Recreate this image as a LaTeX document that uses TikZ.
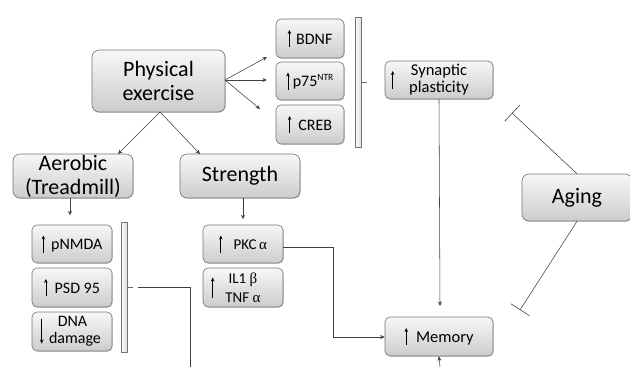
\documentclass[tikz,border=0pt]{standalone}
\usepackage{fontspec}
\setmainfont{Carlito}
\newfontfamily\grk{Liberation Serif}
\usetikzlibrary{arrows.meta,shadows}
\newcommand{\uparr}{\tikz[baseline=0pt]\draw[line width=0.7pt,-{Stealth[length=4pt,width=3.6pt]}] (0pt,-3pt) -- (0pt,14pt);}
\tikzset{
  box/.style={draw=black!55, line width=0.6pt, rounded corners=5pt,
    top color=gray!6, bottom color=gray!40, inner sep=0pt,
    drop shadow={shadow xshift=0.8pt, shadow yshift=-0.8pt, opacity=0.35},
    font=\fontsize{16}{17}\selectfont},
  bigbox/.style={box, rounded corners=7pt, font=\fontsize{22}{24}\selectfont},
  conn/.style={draw=black!75, line width=0.55pt},
  arr/.style={conn, -{Stealth[length=4.5pt,width=4pt]}},
  inarr/.style={line width=0.7pt, -{Stealth[length=4pt,width=3.6pt]}},
  inhib/.style={conn, -{Bar[width=22pt,line width=0.6pt]}},
  brk/.style={draw=black!55, line width=0.6pt, left color=gray!4, right color=gray!25},
}
\begin{document}
\begin{tikzpicture}[x=1pt,y=-1pt]
\useasboundingbox (0,0) rectangle (630,367);
% big boxes
\node[bigbox, minimum width=133pt, minimum height=62pt, align=center] (pe) at (158.5,81) {Physical\\exercise};
\node[bigbox, minimum width=120pt, minimum height=44pt, align=center] (aer) at (73,176) {Aerobic\\(Treadmill)};
\node[bigbox, minimum width=120pt, minimum height=44pt] (str) at (240,176) {Strength};
\node[bigbox, minimum width=110pt, minimum height=47pt] (aging) at (577,197.5) {Aging};
% right column
\node[box, minimum width=68pt, minimum height=39pt] (bdnf) at (310,38.5) {\uparr\hspace{5pt}BDNF\hspace{3pt}};
\node[box, minimum width=68pt, minimum height=38pt] (p75) at (310,81) {\uparr\hspace{3pt}p75\textsuperscript{\fontsize{9.5}{9.5}\selectfont NTR}\hspace{3pt}};
\node[box, minimum width=68pt, minimum height=39pt] (creb) at (310,124.5) {\uparr\hspace{7pt}CREB\hspace{8pt}};
\node[box, minimum width=108pt, minimum height=38pt, align=center, font=\fontsize{16.5}{17}\selectfont] (syn) at (439,80) {Synaptic\\plasticity};
\node[box, minimum width=108pt, minimum height=39pt, font=\fontsize{16.5}{17}\selectfont] (mem) at (439,336.5) {\uparr\hspace{8pt}Memory\hspace{10pt}};
% aerobic column
\node[box, minimum width=80pt, minimum height=38pt] (nmda) at (72,244) {\uparr\hspace{6pt}pNMDA\hspace{3pt}};
\node[box, minimum width=80pt, minimum height=39pt] (psd) at (72,287.5) {\uparr\hspace{7pt}PSD 95\hspace{6pt}};
\node[box, minimum width=80pt, minimum height=39pt, align=center] (dna) at (72,331.5) {\hspace{1pt}DNA\\\hspace{6pt}damage};
% strength column
\node[box, minimum width=80pt, minimum height=38pt, font=\fontsize{15}{16}\selectfont] (pkc) at (243,244) {\uparr\hspace{11pt}PKC\,{\grk α}\hspace{16pt}};
\node[box, minimum width=80pt, minimum height=39pt, align=center, font=\fontsize{15}{19}\selectfont] (il) at (243,287.5) {IL1 {\grk β}\\TNF {\grk α}};
% arrows drawn in the two-line boxes (yshift is upward)
\draw[inarr] ([xshift=8pt,yshift=-9pt]syn.west) -- ([xshift=8pt,yshift=9pt]syn.west);
\draw[inarr] ([xshift=10pt,yshift=13pt]dna.west) -- ([xshift=10pt,yshift=-12pt]dna.west);
\draw[inarr] ([xshift=10pt,yshift=-10pt]il.west) -- ([xshift=10pt,yshift=10pt]il.west);
% brackets
\draw[brk] (355,17) rectangle (361,147);
\draw[draw=black!60, line width=0.6pt] (361,82) -- (367,82);
\draw[brk] (121,222) rectangle (127,352);
\draw[draw=black!60, line width=0.6pt] (127,287) -- (133,287);
% coordinates
\coordinate (pebot) at (160,112);
\coordinate (peright) at (225,80);
\coordinate (aertop) at (118,154);
\coordinate (strtop) at (200,154);
\coordinate (tb) at (267,57);
\coordinate (tp) at (267,80);
\coordinate (tc) at (260,109);
\coordinate (abr) at (138,287);
\coordinate (abrc) at (190,287);
\coordinate (abot) at (190,367);
\coordinate (mbot) at (440,367);
\coordinate (memtop) at (440,306);
\coordinate (pkcc) at (333,247);
\coordinate (pkcd) at (333,337);
\coordinate (inh1) at (512,113);
\coordinate (inh2) at (520,310);
% connectors
\draw[arr] (pebot) -- (aertop);
\draw[arr] (pebot) -- (strtop);
\draw[arr] (peright) -- (tb);
\draw[arr] (peright) -- (tp);
\draw[arr] (peright) -- (tc);
\draw[arr] (aer.south -| nmda.north) ++(-2,0) coordinate (a1) (a1) -- ++(0,17);
\draw[arr] (str.south -| pkc.north) -- ++(0,21);
\draw[arr] (syn.south) -- (memtop);
\draw[arr] (pkc.east |- pkcc) -- (pkcc) -- (pkcd) -- (mem.west |- pkcd);
\draw[conn] (abr) -- (abrc) -- (abot);
\draw[arr] (mbot) -- (mem.south);
\draw[inhib] (aging.north) -- (inh1);
\draw[inhib] (aging.south) -- (inh2);
\end{tikzpicture}
\end{document}
